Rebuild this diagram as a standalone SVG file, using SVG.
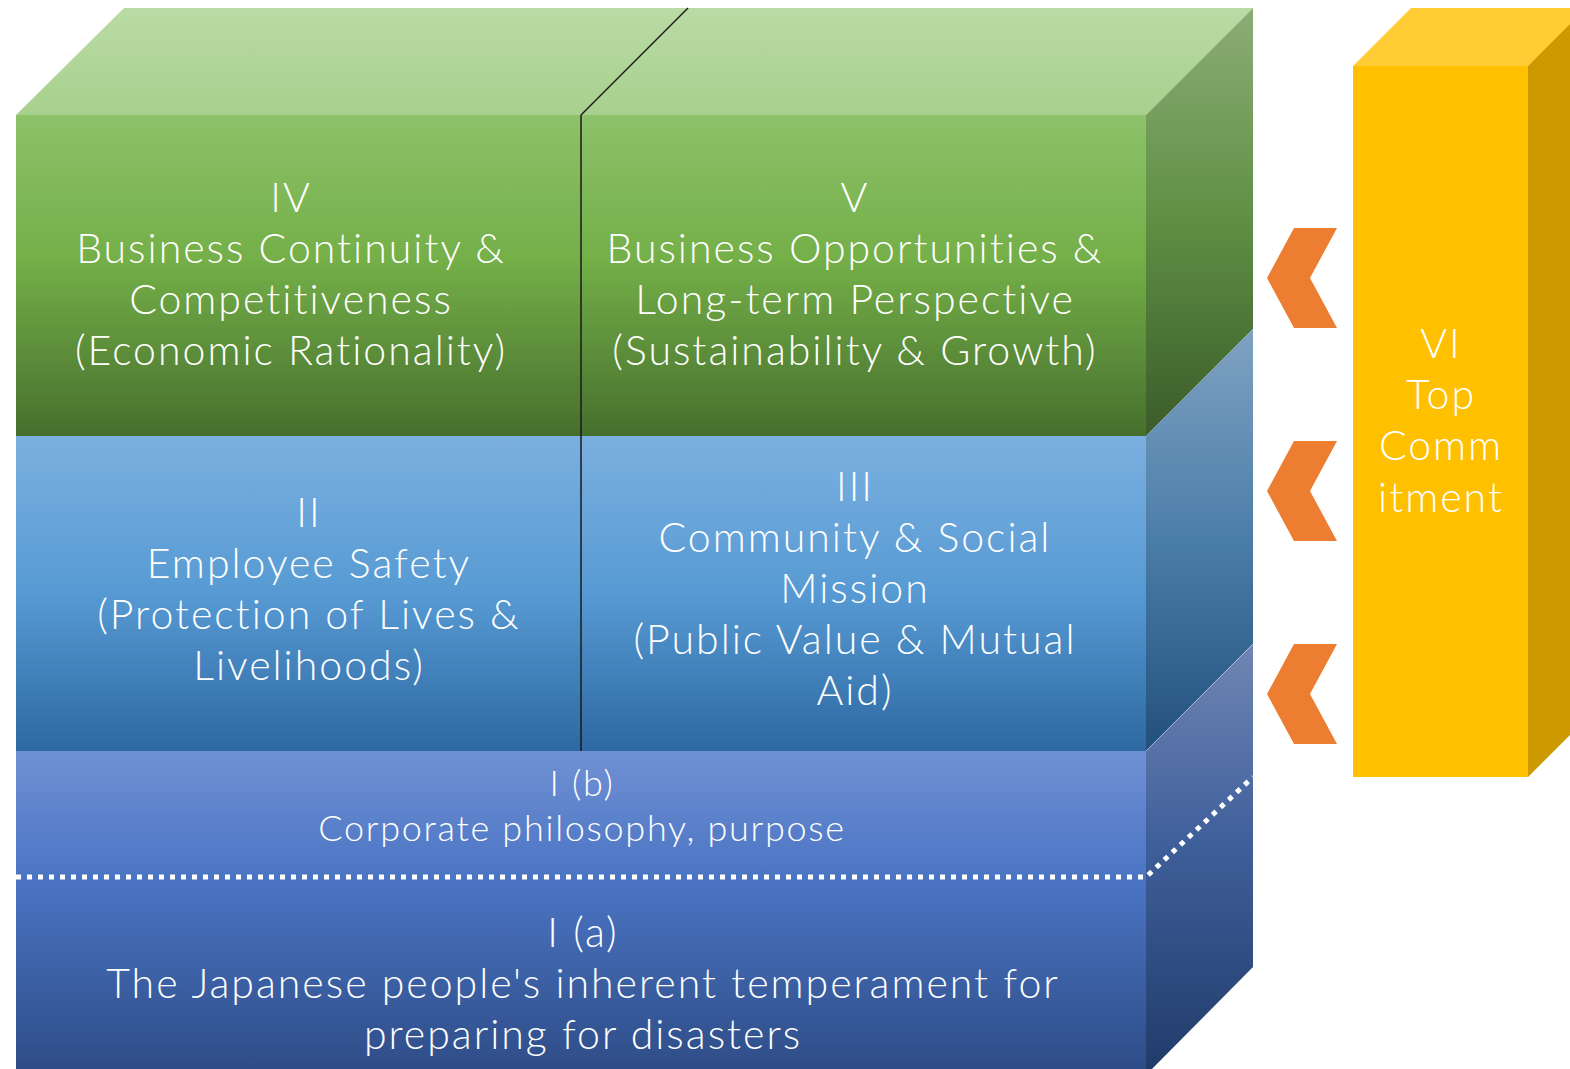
<svg xmlns="http://www.w3.org/2000/svg" width="1570" height="1069" viewBox="0 0 1570 1069">
<defs>
<linearGradient id="gTop" gradientUnits="userSpaceOnUse" x1="0" y1="8" x2="0" y2="115"><stop offset="0" stop-color="#BADBA5"/><stop offset="1" stop-color="#A8D08D"/></linearGradient>
<linearGradient id="gFront" gradientUnits="userSpaceOnUse" x1="0" y1="115" x2="0" y2="436"><stop offset="0" stop-color="#8DC26A"/><stop offset="0.45" stop-color="#74AF48"/><stop offset="1" stop-color="#466F2D"/></linearGradient>
<linearGradient id="gSide" gradientUnits="userSpaceOnUse" x1="0" y1="8" x2="0" y2="436"><stop offset="0" stop-color="#8CAD76"/><stop offset="0.5" stop-color="#5F8F44"/><stop offset="1" stop-color="#3B5C2A"/></linearGradient>
<linearGradient id="bFront" gradientUnits="userSpaceOnUse" x1="0" y1="436" x2="0" y2="751"><stop offset="0" stop-color="#7BB0E0"/><stop offset="0.5" stop-color="#579AD3"/><stop offset="1" stop-color="#2D68A2"/></linearGradient>
<linearGradient id="bSide" gradientUnits="userSpaceOnUse" x1="0" y1="329" x2="0" y2="751"><stop offset="0" stop-color="#7FA2C1"/><stop offset="0.5" stop-color="#4B7DA9"/><stop offset="1" stop-color="#22507C"/></linearGradient>
<linearGradient id="dFront" gradientUnits="userSpaceOnUse" x1="0" y1="751" x2="0" y2="1075"><stop offset="0" stop-color="#7090D4"/><stop offset="0.4" stop-color="#4A74C3"/><stop offset="1" stop-color="#2E4C86"/></linearGradient>
<linearGradient id="dSide" gradientUnits="userSpaceOnUse" x1="0" y1="644" x2="0" y2="1075"><stop offset="0" stop-color="#7086B3"/><stop offset="0.45" stop-color="#40609C"/><stop offset="1" stop-color="#203B69"/></linearGradient>
</defs>
<style>
text{font-family:Lato,"Noto Sans CJK JP",sans-serif;font-weight:300;fill:#FFFFFF;text-anchor:middle;font-variant-ligatures:none}
.t{font-size:41px;letter-spacing:2px}
.s{font-size:36px;letter-spacing:1.7px}
.div{stroke:#1A1A1A;stroke-width:1.5;fill:none}
.dot{stroke:#FFFFFF;stroke-width:5;stroke-dasharray:5 6;fill:none}
.edge{stroke:#FFFFFF;stroke-opacity:0.35;stroke-width:1;fill:none}
.chev{fill:#ED7D31}
</style>
<g id="top-face">
<polygon points="16,115 124,8 1253,8 1146,115" fill="url(#gTop)"/>
</g>
<g id="side-faces">
<polygon points="1146,115 1253,8 1253,329 1146,436" fill="url(#gSide)"/>
<polygon points="1146,436 1253,329 1253,644 1146,751" fill="url(#bSide)"/>
<polygon points="1146,751 1253,644 1253,967 1146,1075" fill="url(#dSide)"/>
<line class="edge" x1="1146" y1="751" x2="1253" y2="644"/>
</g>
<g id="node-IV">
<rect x="16" y="115" width="565" height="321" fill="url(#gFront)"/>
<text class="t" x="291" y="212">IV</text>
<text class="t" x="291" y="263">Business Continuity &amp;</text>
<text class="t" x="291" y="314">Competitiveness</text>
<text class="t" x="291" y="365">(Economic Rationality)</text>
</g>
<g id="node-V">
<rect x="581" y="115" width="565" height="321" fill="url(#gFront)"/>
<text class="t" x="855" y="212">V</text>
<text class="t" x="855" y="263">Business Opportunities &amp;</text>
<text class="t" x="855" y="314">Long-term Perspective</text>
<text class="t" x="855" y="365">(Sustainability &amp; Growth)</text>
</g>
<g id="node-II">
<rect x="16" y="436" width="565" height="315" fill="url(#bFront)"/>
<text class="t" x="309" y="527">II</text>
<text class="t" x="309" y="578">Employee Safety</text>
<text class="t" x="309" y="629">(Protection of Lives &amp;</text>
<text class="t" x="309" y="680">Livelihoods)</text>
</g>
<g id="node-III">
<rect x="581" y="436" width="565" height="315" fill="url(#bFront)"/>
<text class="t" x="855" y="501">III</text>
<text class="t" x="855" y="552">Community &amp; Social</text>
<text class="t" x="855" y="603">Mission</text>
<text class="t" x="855" y="654">(Public Value &amp; Mutual</text>
<text class="t" x="855" y="705">Aid)</text>
</g>
<g id="node-I">
<rect x="16" y="751" width="1130" height="324" fill="url(#dFront)"/>
</g>
<g id="node-Ib">
<text class="s" x="582" y="796">I (b)</text>
<text class="s" x="582" y="841">Corporate philosophy, purpose</text>
</g>
<g id="node-Ia">
<text class="t" x="583" y="947">I (a)</text>
<text class="t" x="583" y="998">The Japanese people's inherent temperament for</text>
<text class="t" x="583" y="1049">preparing for disasters</text>
</g>
<g id="dividers">
<line class="div" x1="581" y1="115" x2="581" y2="751"/>
<line class="div" x1="581" y1="115" x2="688" y2="8"/>
<polyline class="dot" points="16,877 1146,877 1253,777"/>
</g>
<g id="node-VI">
<polygon points="1353,66 1411,8 1590,8 1528,66" fill="#FFCD33"/>
<polygon points="1528,66 1590,4 1590,715 1528,777" fill="#CC9A00"/>
<rect x="1353" y="66" width="175" height="711" fill="#FFC000"/>
<text class="t" x="1441" y="358">VI</text>
<text class="t" x="1441" y="409">Top</text>
<text class="t" x="1441" y="460">Comm</text>
<text class="t" x="1441" y="512">itment</text>
</g>
<g id="connectors">
<polygon class="chev" points="1294,228 1337,228 1310,278 1337,328 1294,328 1267,278"/>
<polygon class="chev" points="1294,441 1337,441 1310,491 1337,541 1294,541 1267,491"/>
<polygon class="chev" points="1294,644 1337,644 1310,694 1337,744 1294,744 1267,694"/>
</g>
</svg>
